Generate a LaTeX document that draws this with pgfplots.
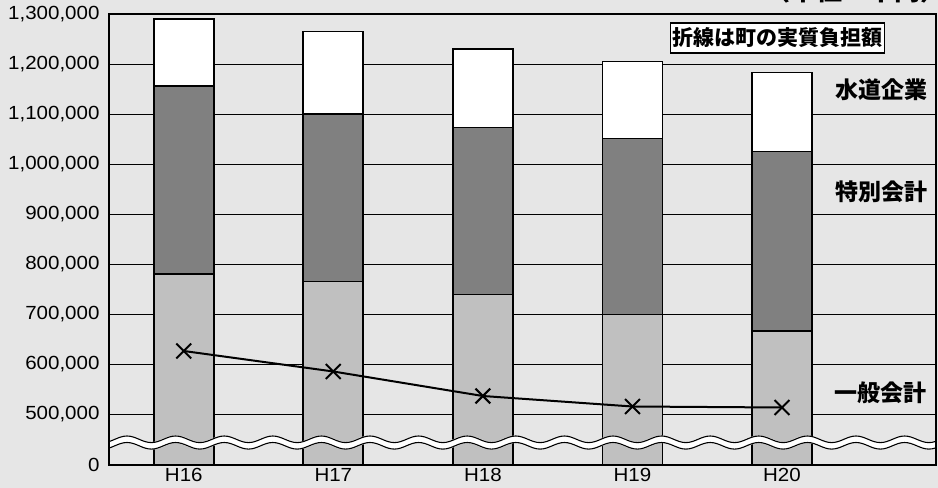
\documentclass[border=0pt]{standalone}
\usepackage{pgfplots}
\pgfplotsset{compat=1.18}
\usepackage{pgfplotstable}
\usepackage{fontspec}
\setmainfont{Liberation Sans}[FakeStretch=1.08]
\newfontfamily\jp{Noto Sans CJK JP}
\definecolor{bg}{RGB}{230,230,230}
\definecolor{darkbar}{RGB}{128,128,128}
\definecolor{lightbar}{RGB}{192,192,192}

% thousands of yen
\pgfplotstableread{
x ippan tokubetsu suido jisshitsu
0 780 376 134 626
1 765 335 165 585
2 739 334 157 536
3 699 352 154 515
4 666 359 158 513
}\data

\pgfplotsset{
  base/.style={at={(109bp,23bp)}, anchor=south west, scale only axis,
    width=827bp, height=451bp, xmin=-0.5, xmax=5.03, ymin=398, ymax=1300},
}

\begin{document}
\begin{tikzpicture}
\fill[bg] (0,0) rectangle (938bp,488bp);
\begin{axis}[base,
    ybar stacked, bar width=60bp,
    axis line style={line width=1.8bp},
    ymajorgrids, grid style={black, line width=0.8bp},
    major tick length=0pt,
    xtick={0,...,4}, xticklabels={H16,H17,H18,H19,H20},
    ytick={398,500,600,700,800,900,1000,1100,1200,1300},
    yticklabels={0,{500,000},{600,000},{700,000},{800,000},{900,000},{1,000,000},{1,100,000},{1,200,000},{1,300,000}},
    ticklabel style={font=\fontsize{19bp}{22bp}\selectfont},
    yticklabel style={xshift=-6bp},
]
\addplot[fill=lightbar, draw=black, line width=1.7bp] table[x=x,y=ippan]{\data};
\addplot[fill=darkbar, draw=black, line width=1.7bp] table[x=x,y=tokubetsu]{\data};
\addplot[fill=white, draw=black, line width=1.7bp] table[x=x,y=suido]{\data};
\end{axis}
% axis break
\begin{scope}
\clip (109bp,0) rectangle (936bp,488bp);
\draw[white, line width=7.5bp] (78.4bp,48.75bp) \foreach \k in {0,...,18}{ cos ++(12.15bp,-3.3bp) sin ++(12.15bp,-3.3bp) cos ++(12.15bp,3.3bp) sin ++(12.15bp,3.3bp)};
\draw[black, line width=1.1bp] (78.4bp,52bp) \foreach \k in {0,...,18}{ cos ++(12.15bp,-3.3bp) sin ++(12.15bp,-3.3bp) cos ++(12.15bp,3.3bp) sin ++(12.15bp,3.3bp)};
\draw[black, line width=1.1bp] (78.4bp,45.5bp) \foreach \k in {0,...,18}{ cos ++(12.15bp,-3.3bp) sin ++(12.15bp,-3.3bp) cos ++(12.15bp,3.3bp) sin ++(12.15bp,3.3bp)};
\end{scope}
\begin{axis}[base, axis line style={line width=1.8bp}, xtick=\empty, ytick=\empty]
\addplot[black, line width=2bp, mark=x, mark size=10.5bp, mark options={line width=2bp}] table[x=x,y=jisshitsu]{\data};
\end{axis}
\node[font=\jp\bfseries\fontsize{23bp}{26bp}\selectfont] at (881bp,398bp) {水道企業};
\node[font=\jp\bfseries\fontsize{23bp}{26bp}\selectfont] at (881bp,296bp) {特別会計};
\node[font=\jp\bfseries\fontsize{23bp}{26bp}\selectfont] at (880bp,95bp) {一般会計};
\node[draw, line width=1.6bp, fill=white, inner xsep=2bp, inner ysep=2bp, minimum height=30bp,
  font=\jp\bfseries\fontsize{21bp}{24bp}\selectfont] at (777.5bp,450bp) {折線は町の実質負担額};
\node[anchor=base east, font=\jp\bfseries\fontsize{26bp}{28bp}\selectfont] at (950bp,487bp) {（単位：千円）};
\pgfresetboundingbox
\useasboundingbox (0,0) rectangle (938bp,488bp);
\end{tikzpicture}
\end{document}
